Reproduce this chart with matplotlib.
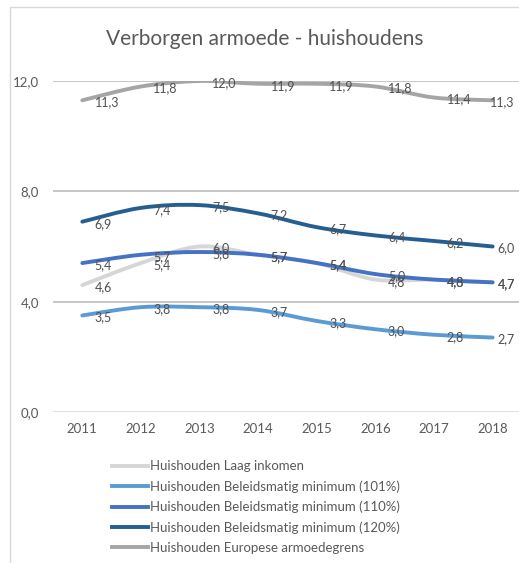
import matplotlib.pyplot as plt
from matplotlib.path import Path
from matplotlib.patches import PathPatch, Rectangle
from matplotlib.lines import Line2D

plt.rcParams['font.family'] = ['Lato', 'DejaVu Sans']

years = ['2011', '2012', '2013', '2014', '2015', '2016', '2017', '2018']
laag_inkomen = [4.6, 5.4, 6.0, 5.7, 5.4, 4.8, 4.8, 4.7]
minimum_101 = [3.5, 3.8, 3.8, 3.7, 3.3, 3.0, 2.8, 2.7]
minimum_110 = [5.4, 5.7, 5.8, 5.7, 5.4, 5.0, 4.8, 4.7]
minimum_120 = [6.9, 7.4, 7.5, 7.2, 6.7, 6.4, 6.2, 6.0]
europees = [11.3, 11.8, 12.0, 11.9, 11.9, 11.8, 11.4, 11.3]

series = [
    ('Huishouden Laag inkomen', laag_inkomen, '#d6d6d6'),
    ('Huishouden Beleidsmatig minimum (101%)', minimum_101, '#5b9bd5'),
    ('Huishouden Beleidsmatig minimum (110%)', minimum_110, '#4472c4'),
    ('Huishouden Beleidsmatig minimum (120%)', minimum_120, '#255e91'),
    ('Huishouden Europese armoedegrens', europees, '#a5a5a5'),
]


def smooth_path(xs, ys):
    # excel-achtige gladde lijn (catmull-rom als bezier)
    pts = list(zip(xs, ys))
    verts = [pts[0]]
    codes = [Path.MOVETO]
    n = len(pts)
    for i in range(n - 1):
        p0 = pts[max(i - 1, 0)]
        p1 = pts[i]
        p2 = pts[i + 1]
        p3 = pts[min(i + 2, n - 1)]
        c1 = (p1[0] + (p2[0] - p0[0]) / 6, p1[1] + (p2[1] - p0[1]) / 6)
        c2 = (p2[0] - (p3[0] - p1[0]) / 6, p2[1] - (p3[1] - p1[1]) / 6)
        verts += [c1, c2, p2]
        codes += [Path.CURVE4] * 3
    return Path(verts, codes)


W, H = 519, 563
fig = plt.figure(figsize=(W / 100, H / 100), dpi=100)
fig.patches.append(Rectangle((10 / W, -0.1), 1.2, 1.1 - 7 / H, transform=fig.transFigure,
                             fill=False, edgecolor='#d9d9d9', linewidth=1))

ax = fig.add_axes([53 / W, 1 - 412 / H, (W - 53) / W, 331 / H])
x = list(range(len(years)))

for name, vals, col in series:
    ax.add_patch(PathPatch(smooth_path(x, vals), fill=False, edgecolor=col,
                           linewidth=2.8, capstyle='round', joinstyle='round', zorder=3))

for name, vals, col in series:
    for xi, v in zip(x, vals):
        # laatste label blijft binnen de grafiek, zoals in excel
        if xi == x[-1]:
            dx, ha = 16, 'right'
        else:
            dx, ha = 9, 'left'
        ax.annotate(f'{v:.1f}'.replace('.', ','), (xi, v), xytext=(dx, -1.5),
                    textcoords='offset points', ha=ha, va='center',
                    fontsize=9, color='#505050', zorder=5, annotation_clip=False)

ax.set_xlim(-0.5, 7.45)
ax.set_ylim(0, 12)
ax.set_yticks([0, 4, 8, 12])
ax.set_yticklabels(['0,0', '4,0', '8,0', '12,0'])
ax.set_xticks(x)
ax.set_xticklabels(years)
ax.tick_params(length=0, labelsize=9.5, labelcolor='#595959')
ax.tick_params(axis='y', pad=10)
ax.tick_params(axis='x', pad=8)
for s in ax.spines.values():
    s.set_visible(False)
for yv in [4, 8, 12]:
    ax.axhline(yv, color='#bcbcbc', linewidth=1.2, zorder=1)
ax.axhline(0, color='#d9d9d9', linewidth=1.2, zorder=1)

fig.text(265 / W, 1 - 39 / H, 'Verborgen armoede - huishoudens', ha='center', va='center',
         fontsize=15, color='#595959')

handles = [Line2D([], [], color=col, linewidth=2.8) for name, vals, col in series]
fig.legend(handles, [s[0] for s in series], loc='upper left',
           bbox_to_anchor=(112 / W, 1 - 460.5 / H), bbox_transform=fig.transFigure,
           frameon=False, fontsize=9.5, labelcolor='#595959', handlelength=2.7,
           handletextpad=0.2, borderpad=0, borderaxespad=0, labelspacing=0.6)

fig.savefig('out.png', dpi=100)
